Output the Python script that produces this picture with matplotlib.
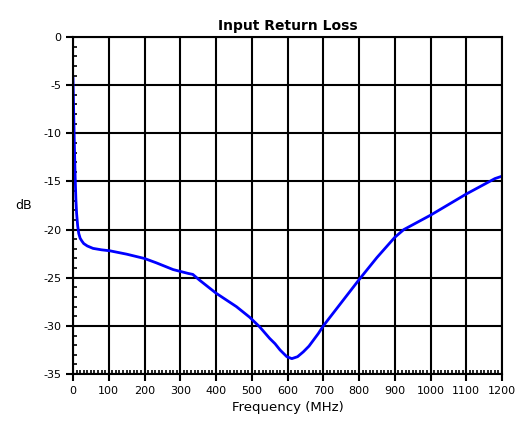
# Input return loss vs frequency
import matplotlib.pyplot as plt
from matplotlib.ticker import MultipleLocator

freq_mhz = [0, 2, 4, 6, 8, 10, 13, 16, 20, 25, 30, 40, 56, 80, 103, 150, 200, 233,
            280, 322, 335, 354, 400, 457, 494, 522, 550, 565, 579, 598, 612, 628,
            644, 660, 672, 686, 700, 750, 800, 850, 900, 925, 950, 1000, 1050,
            1100, 1150, 1180, 1200]
return_loss_db = [-4.3, -8.0, -11.5, -14.5, -16.8, -18.3, -19.6, -20.4, -20.9, -21.2,
                  -21.45, -21.7, -21.95, -22.1, -22.2, -22.55, -23.0, -23.45,
                  -24.15, -24.55, -24.65, -25.25, -26.6, -28.0, -29.1, -30.1, -31.3,
                  -31.85, -32.5, -33.2, -33.4, -33.2, -32.7, -32.1, -31.5, -30.8,
                  -30.0, -27.6, -25.2, -22.9, -20.8, -20.0, -19.5, -18.5, -17.4,
                  -16.3, -15.3, -14.7, -14.45]

plt.rcParams['font.family'] = ['DejaVu Sans']
plt.rcParams['axes.unicode_minus'] = False

fig = plt.figure(figsize=(5.16, 4.26), dpi=100)
ax = fig.add_axes([0.1415, 0.122, 0.8315, 0.791])

ax.plot(freq_mhz, return_loss_db, color='#0000ff', linewidth=2)

ax.set_xlim(0, 1200)
ax.set_ylim(-35, 0)
ax.xaxis.set_major_locator(MultipleLocator(100))
ax.xaxis.set_minor_locator(MultipleLocator(10))
ax.yaxis.set_major_locator(MultipleLocator(5))
ax.yaxis.set_minor_locator(MultipleLocator(1))

ax.grid(True, which='major', color='black', linewidth=1.5)
for s in ax.spines.values():
    s.set_linewidth(1.5)
    s.set_color('black')

ax.tick_params(which='major', direction='out', length=5, width=1.5, labelsize=8)
ax.tick_params(which='minor', direction='in', length=3, width=1.2)

ax.set_title('Input Return Loss', fontsize=10, fontweight='bold', pad=5)
ax.set_xlabel('Frequency (MHz)', fontsize=9.5)
ax.set_ylabel('dB', fontsize=9, rotation=0, labelpad=14, va='center')

fig.savefig('out.png', dpi=100)
